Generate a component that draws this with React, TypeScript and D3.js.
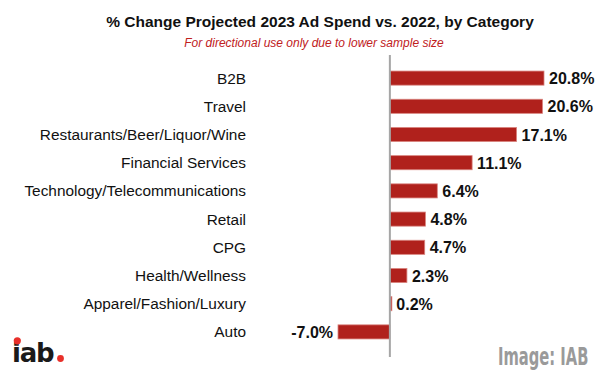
import React from "react";
import * as d3 from "d3";

const categories = [
  "B2B",
  "Travel",
  "Restaurants/Beer/Liquor/Wine",
  "Financial Services",
  "Technology/Telecommunications",
  "Retail",
  "CPG",
  "Health/Wellness",
  "Apparel/Fashion/Luxury",
  "Auto",
];
const values = [20.8, 20.6, 17.1, 11.1, 6.4, 4.8, 4.7, 2.3, 0.2, -7.0];

const W = 600;
const H = 372;

export default function App() {
  const x = d3.scaleLinear().domain([-7, 20.8]).range([338, 544]);
  const y = d3
    .scaleBand<string>()
    .domain(categories)
    .range([64, 346])
    .paddingInner(0.5)
    .paddingOuter(0.25);
  const x0 = x(0);
  const font = "'Liberation Sans', Arial, Helvetica, sans-serif";
  return (
    <svg
      width={W}
      height={H}
      style={{ position: "absolute", left: 0, top: 0, background: "#fff" }}
      fontFamily={font}
    >
      <rect width={W} height={H} fill="#fff" />
      <text x={320} y={27} textAnchor="middle" fontSize={15.5} fontWeight="bold" fill="#111">
        % Change Projected 2023 Ad Spend vs. 2022, by Category
      </text>
      <text x={314} y={47} textAnchor="middle" fontSize={12} fontStyle="italic" fill="#c0201c">
        For directional use only due to lower sample size
      </text>
      {categories.map((c, i) => {
        const v = values[i];
        const yy = y(c)!;
        const bw = y.bandwidth();
        const x1 = Math.min(x(v), x0);
        const x2 = Math.max(x(v), x0);
        return (
          <g key={c}>
            <text x={246} y={yy + bw / 2 + 5.5} textAnchor="end" fontSize={15.4} fill="#111">
              {c}
            </text>
            <rect
              x={x1}
              y={yy}
              width={Math.max(x2 - x1, 2)}
              height={bw}
              fill="#b0211c"
              stroke="#d9847f"
              strokeWidth={0.8}
            />
            <text
              x={v >= 0 ? x(v) + 5 : x(v) - 5}
              y={yy + bw / 2 + 6}
              textAnchor={v >= 0 ? "start" : "end"}
              fontSize={16}
              fontWeight="bold"
              fill="#111"
            >
              {v.toFixed(1) + "%"}
            </text>
          </g>
        );
      })}
      <line x1={x0} x2={x0} y1={55} y2={357} stroke="#a6a6a6" strokeWidth={2} />
      {/* iab logo */}
      <text
        x={12}
        y={362}
        fontSize={26}
        fontWeight="bold"
        fill="#1a1a1a"
        letterSpacing={-1.2}
        fontFamily="'DejaVu Sans', sans-serif"
      >
        iab
      </text>
      <circle cx={17.3} cy={340.8} r={3.6} fill="#e8302a" />
      <circle cx={60.5} cy={358.5} r={3.4} fill="#e8302a" />
      <text
        x={0}
        y={0}
        fontSize={25}
        fontWeight="bold"
        fill="#9a9a9a"
        fontFamily="'DejaVu Sans Condensed', 'DejaVu Sans', sans-serif"
        transform="translate(498,365) scale(0.655,1)"
      >
        Image: IAB
      </text>
    </svg>
  );
}
